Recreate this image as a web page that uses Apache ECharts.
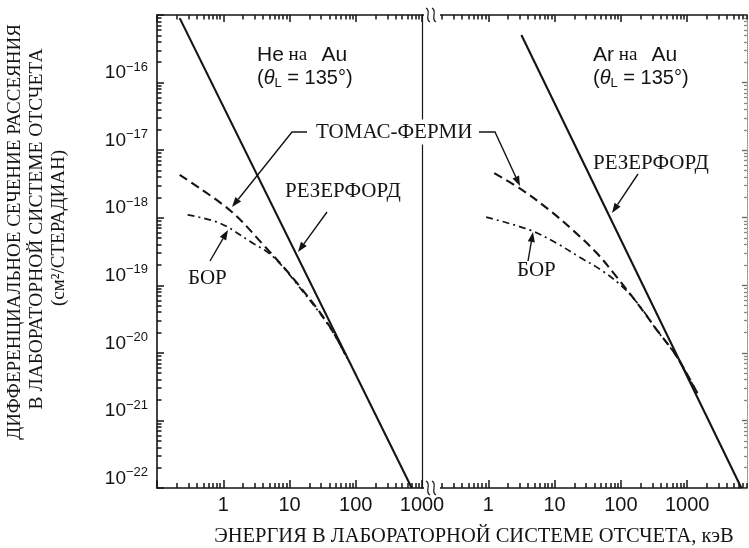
<!DOCTYPE html>
<html><head><meta charset="utf-8">
<script src="https://cdn.jsdelivr.net/npm/echarts@6/dist/echarts.min.js"></script>
<style>html,body{margin:0;padding:0;background:#fff}#c{width:749px;height:548px}</style>
</head><body><div id="c"></div>
<script>
// ---------------- data ----------------
const xTickLabels = [1, 10, 100, 1000];
const yTickExponents = [-16, -17, -18, -19, -20, -21, -22];

// He на Au, energy in keV, cross-section in cm^2/sr
const heRutherfordE = [0.22, 700];
const heRutherfordS = [9.0e-16, 1.0e-22];
const heThomasFermiE = [0.22, 1.26, 4.0, 12.6, 40, 75];
const heThomasFermiS = [4.3e-18, 1.29e-18, 4.0e-19, 1.12e-19, 2.5e-20, 8.2e-21];
const heBohrE = [0.29, 0.89, 2.8, 5.1, 8.0, 12.6, 40, 74];
const heBohrS = [1.1e-18, 8.3e-19, 4.2e-19, 2.9e-19, 1.86e-19, 1.08e-19, 2.45e-20, 8.3e-21];

// Ar на Au
const arRutherfordE = [3.16, 6580];
const arRutherfordS = [5.06e-16, 1.0e-22];
const arThomasFermiE = [1.23, 3.27, 8.4, 18.7, 43.3, 86.9, 175, 351, 705, 1500];
const arThomasFermiS = [4.57e-18, 2.56e-18, 1.29e-18, 6.6e-19, 3.0e-19, 1.32e-19, 5.5e-20, 2.17e-20, 8.7e-21, 2.3e-21];
const arBohrE = [0.93, 4.18, 10.7, 23.9, 53.4, 107, 194, 351, 705, 1500];
const arBohrS = [1.02e-18, 6.6e-19, 4.2e-19, 2.6e-19, 1.62e-19, 9.4e-20, 4.9e-20, 2.15e-20, 8.6e-21, 2.28e-21];

// axis ranges
const heXRange = [0.1, 1000];
const arXRange = [0.1, 8000];
const yRange = [1e-22, 1e-15];

// ---------------- helpers ----------------
const SANS = '"Liberation Sans", Arial, sans-serif';
const SERIF = '"Liberation Serif", "Times New Roman", serif';
const INK = '#141414';
const CLEAR = 'rgba(0,0,0,0)';
function decades(lo, hi) { const o = []; for (let d = lo; d <= hi; d++) o.push(+('1e' + d)); return o; }
function minors(lo, hi, maxV) { const o = []; for (let d = lo; d < hi; d++) for (let k = 2; k <= 9; k++) { const v = +(k + 'e' + d); if (maxV == null || v <= maxV) o.push(v); } return o; }

function xAxesFor(gi, range, majorVals, minorVals, labels) {
  const base = { gridIndex: gi, type: 'log', logBase: 10, min: range[0], max: range[1], splitLine: { show: false }, minorTick: { show: false } };
  return [
    Object.assign({}, base, { position: 'bottom',
      axisLine: { show: true, onZero: false, lineStyle: { color: INK, width: 1.6 } },
      axisTick: { show: true, inside: true, length: 8, customValues: majorVals, lineStyle: { color: INK, width: 1.5 } },
      axisLabel: { show: true, customValues: labels, formatter: v => String(Math.round(v)), fontSize: 20, color: INK, fontFamily: SANS, margin: 7 } }),
    Object.assign({}, base, { position: 'bottom',
      axisLine: { show: true, onZero: false, lineStyle: { color: CLEAR, width: 1 } },
      axisTick: { show: true, inside: true, length: 5, customValues: minorVals, lineStyle: { color: INK, width: 1.5 } },
      axisLabel: { show: false } }),
    Object.assign({}, base, { position: 'top',
      axisLine: { show: true, onZero: false, lineStyle: { color: INK, width: 1.6 } },
      axisTick: { show: true, inside: true, length: 7, customValues: majorVals, lineStyle: { color: INK, width: 1.5 } },
      axisLabel: { show: false } }),
    Object.assign({}, base, { position: 'top',
      axisLine: { show: true, onZero: false, lineStyle: { color: CLEAR, width: 1 } },
      axisTick: { show: true, inside: true, length: 4.5, customValues: minorVals, lineStyle: { color: INK, width: 1.5 } },
      axisLabel: { show: false } })
  ];
}
const xAxes = [].concat(
  xAxesFor(0, heXRange, decades(-1, 3), minors(-1, 3), xTickLabels),                 // 0..3
  xAxesFor(1, arXRange, decades(-1, 3), minors(-1, 4, arXRange[1]), xTickLabels)     // 4..7
);

const yBase = gi => ({ gridIndex: gi, type: 'log', logBase: 10, min: yRange[0], max: yRange[1], splitLine: { show: false }, minorTick: { show: false } });
const yLabelValues = yTickExponents.map(e => +('1e' + e));
const yAxes = [
  Object.assign(yBase(0), { position: 'left',
    axisLine: { show: true, onZero: false, lineStyle: { color: INK, width: 1.6 } },
    axisTick: { show: true, inside: true, length: 7, customValues: decades(-22, -15), lineStyle: { color: INK, width: 1.5 } },
    axisLabel: { show: true, customValues: yLabelValues, margin: 9, verticalAlign: 'bottom',
      formatter: v => '{b|10}{s|\u2212' + Math.abs(Math.round(Math.log10(v))) + '}',
      rich: { b: { fontSize: 19, fontFamily: SANS, color: INK, lineHeight: 22, verticalAlign: 'bottom' },
              s: { fontSize: 13, fontFamily: SANS, color: INK, lineHeight: 14, verticalAlign: 'top' } } } }),
  Object.assign(yBase(0), { position: 'left',
    axisLine: { show: true, onZero: false, lineStyle: { color: CLEAR, width: 1 } },
    axisTick: { show: true, inside: true, length: 4.5, customValues: minors(-22, -15), lineStyle: { color: INK, width: 1.5 } },
    axisLabel: { show: false } }),
  Object.assign(yBase(0), { position: 'right',
    axisLine: { show: true, onZero: false, lineStyle: { color: INK, width: 1.2 } },
    axisTick: { show: false }, axisLabel: { show: false } }),
  Object.assign(yBase(1), { position: 'left',
    axisLine: { show: false, onZero: false }, axisTick: { show: false }, axisLabel: { show: false } }),
  Object.assign(yBase(1), { position: 'right',
    axisLine: { show: true, onZero: false, lineStyle: { color: '#888', width: 1, type: 'dotted' } },
    axisTick: { show: true, inside: true, length: 5, customValues: decades(-22, -15), lineStyle: { color: '#666', width: 1.3 } },
    axisLabel: { show: false } }),
  Object.assign(yBase(1), { position: 'right',
    axisLine: { show: true, onZero: false, lineStyle: { color: CLEAR, width: 1 } },
    axisTick: { show: true, inside: true, length: 3, customValues: minors(-22, -15), lineStyle: { color: '#888', width: 1.3 } },
    axisLabel: { show: false } })
];

const solid = { color: INK, width: 2.1 };
const dashed = { color: INK, width: 2.1, type: [9, 5] };
const dashDot = { color: INK, width: 1.7, type: [7, 4, 2, 4] };
function line(name, E, S, xi, yi, style, smooth) {
  return { name, type: 'line', xAxisIndex: xi, yAxisIndex: yi, data: E.map((e, i) => [e, S[i]]),
    showSymbol: false, symbol: 'none', smooth: smooth ? 0.35 : false, lineStyle: style, silent: true, z: 5 };
}
const series = [
  line('He Rutherford', heRutherfordE, heRutherfordS, 0, 0, solid, false),
  line('He Thomas-Fermi', heThomasFermiE, heThomasFermiS, 0, 0, dashed, true),
  line('He Bohr', heBohrE, heBohrS, 0, 0, dashDot, true),
  line('Ar Rutherford', arRutherfordE, arRutherfordS, 4, 3, solid, false),
  line('Ar Thomas-Fermi', arThomasFermiE, arThomasFermiS, 4, 3, dashed, true),
  line('Ar Bohr', arBohrE, arBohrS, 4, 3, dashDot, true)
];

// ---------------- annotations ----------------
function arrow(points) {
  const n = points.length;
  const [x1, y1] = points[n - 2], [x2, y2] = points[n - 1];
  const a = Math.atan2(y2 - y1, x2 - x1), L = 10, W = 3.6;
  const bx = x2 - L * Math.cos(a), by = y2 - L * Math.sin(a);
  const pts = points.slice(0, n - 1).concat([[bx, by]]);
  return [
    { type: 'polyline', z: 100, shape: { points: pts }, style: { stroke: INK, lineWidth: 1.4, fill: null } },
    { type: 'polygon', z: 100, shape: { points: [[x2, y2], [bx + W * Math.sin(a), by - W * Math.cos(a)], [bx - W * Math.sin(a), by + W * Math.cos(a)]] }, style: { fill: INK } }
  ];
}
function txt(text, x, y, size, family, extra) {
  return Object.assign({ type: 'text', x, y, z: 100, style: Object.assign({ text, fontSize: size, fontFamily: family, fill: INK, align: 'left', verticalAlign: 'middle' }, extra || {}) });
}
const angleRich = {
  p: { fontSize: 20, fontFamily: SANS, fill: INK },
  t: { fontSize: 20, fontFamily: SANS, fontStyle: 'italic', fill: INK },
  l: { fontSize: 13, fontFamily: SANS, fill: INK, padding: [10, 0, 0, 0] }
};
const titleRich = {
  s: { fontSize: 21, fontFamily: SANS, fill: INK },
  r: { fontSize: 19, fontFamily: SERIF, fill: INK }
};
function squiggle(cx, cy) {
  const s = (x) => ({ type: 'bezierCurve', z: 100,
    shape: { x1: x - 1, y1: cy - 7, cpx1: x + 5, cpy1: cy - 4, cpx2: x - 3, cpy2: cy + 4, x2: x + 3, y2: cy + 7 },
    style: { stroke: INK, lineWidth: 1.2, fill: null } });
  return [
    { type: 'rect', z: 99, shape: { x: cx - 3, y: cy - 4, width: 16, height: 8 }, style: { fill: '#fff' } },
    s(cx), s(cx + 6)
  ];
}

const graphic = [].concat(
  [
    { type: 'text', x: 15, y: 232, rotation: Math.PI / 2, z: 100, style: { text: 'ДИФФЕРЕНЦИАЛЬНОЕ СЕЧЕНИЕ РАССЕЯНИЯ', fontSize: 19, fontFamily: SERIF, fill: INK, align: 'center', verticalAlign: 'middle' } },
    { type: 'text', x: 37, y: 229, rotation: Math.PI / 2, z: 100, style: { text: 'В ЛАБОРАТОРНОЙ СИСТЕМЕ ОТСЧЕТА', fontSize: 19.5, fontFamily: SERIF, fill: INK, align: 'center', verticalAlign: 'middle' } },
    { type: 'text', x: 59, y: 228, rotation: Math.PI / 2, z: 100, style: { text: '(см²/СТЕРАДИАН)', fontSize: 19, fontFamily: SERIF, fill: INK, align: 'center', verticalAlign: 'middle' } },
    { type: 'text', x: 474, y: 537, z: 100, style: { text: 'ЭНЕРГИЯ В ЛАБОРАТОРНОЙ СИСТЕМЕ ОТСЧЕТА, кэВ', fontSize: 20.5, fontFamily: SERIF, fill: INK, align: 'center', verticalAlign: 'middle' } }
  ],
  [
    txt('{s|He}{r| на   }{s|Au}', 257, 55, 21, SANS, { rich: titleRich }),
    txt('{p|(}{t|θ}{l|L}{p| = 135°)}', 257, 78, 20, SANS, { rich: angleRich }),
    txt('{s|Ar}{r| на   }{s|Au}', 593, 55, 21, SANS, { rich: titleRich }),
    txt('{p|(}{t|θ}{l|L}{p| = 135°)}', 593, 78, 20, SANS, { rich: angleRich })
  ],
  [
    txt('ТОМАС-ФЕРМИ', 313, 132, 21, SERIF, { backgroundColor: '#fff', padding: [2, 3, 2, 3] }),
    txt('РЕЗЕРФОРД', 285, 191, 21, SERIF),
    txt('БОР', 188, 278, 21, SERIF),
    txt('РЕЗЕРФОРД', 593, 163, 21, SERIF),
    txt('БОР', 517, 270, 21, SERIF)
  ],
  arrow([[307, 132], [292, 132], [232, 207]]),
  arrow([[479, 132], [495, 132], [520, 186]]),
  arrow([[327, 212], [298, 252]]),
  arrow([[210, 261], [228, 230]]),
  arrow([[638, 174], [612, 213]]),
  arrow([[528, 261], [533, 232]]),
  squiggle(427, 15),
  squiggle(427, 488)
);

const chart = echarts.init(document.getElementById('c'), null, { renderer: 'canvas' });
chart.setOption({
  animation: false,
  backgroundColor: '#fff',
  grid: [
    { left: 157, top: 15, width: 265, height: 473, containLabel: false },
    { left: 422, top: 15, width: 325, height: 473, containLabel: false }
  ],
  xAxis: xAxes,
  yAxis: yAxes,
  series,
  graphic
});
</script></body></html>
